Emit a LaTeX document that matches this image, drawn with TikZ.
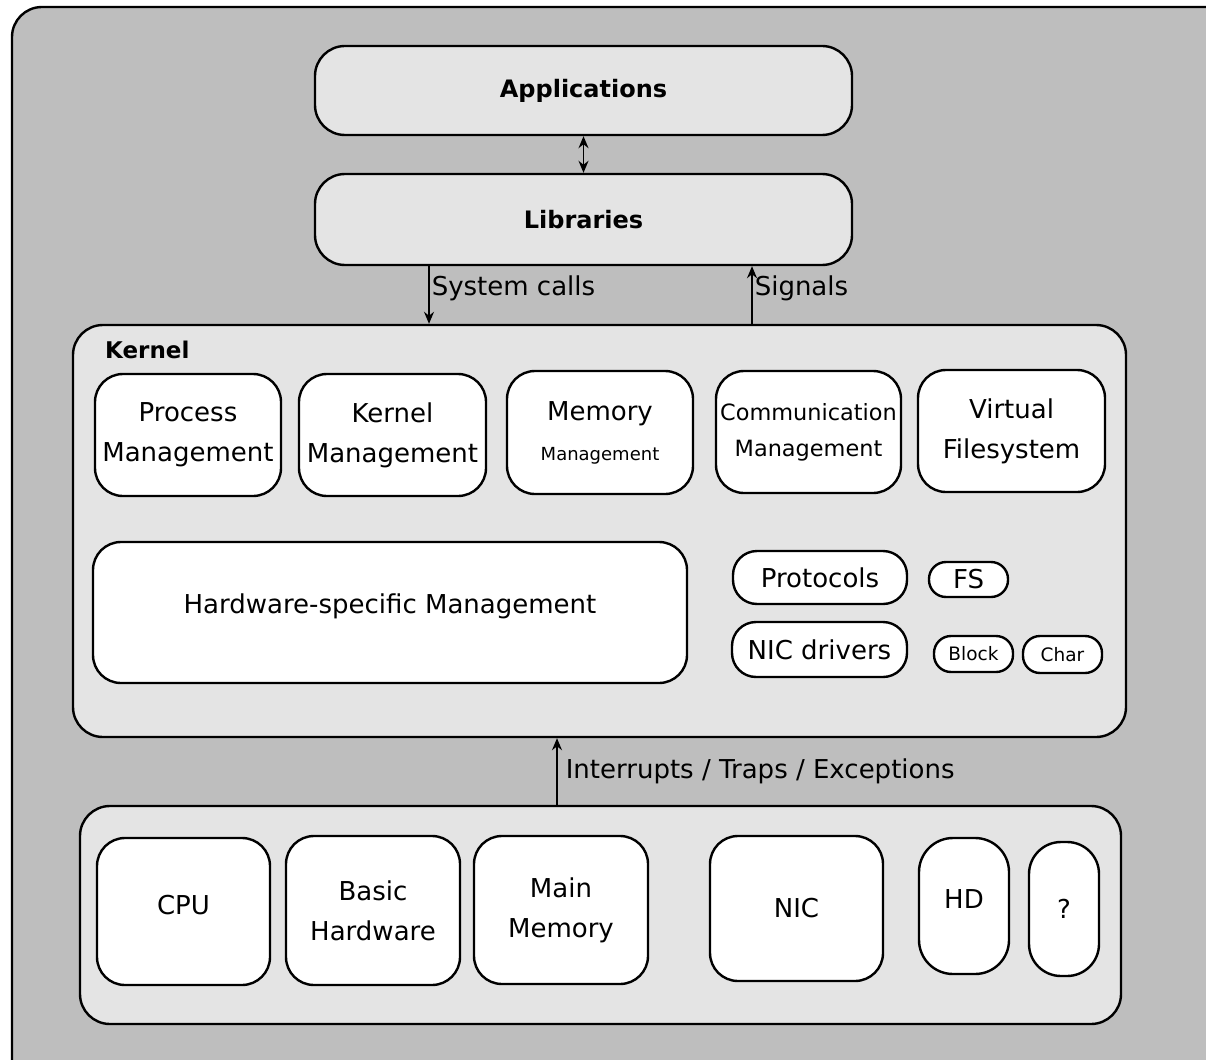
\documentclass[tikz,border=0pt]{standalone}
\usepackage{fontspec}
\setmainfont{DejaVu Sans}
\usepackage{xcolor}
\usetikzlibrary{arrows.meta}

\definecolor{outergray}{HTML}{BEBEBE}
\definecolor{layergray}{HTML}{E4E4E4}

\begin{document}
\begin{tikzpicture}[x=1pt,y=-1pt,
    layer/.style={draw, fill=layergray, line width=2.4pt, rounded corners=30pt, inner sep=0pt},
    unit/.style={draw, fill=white, line width=2.4pt, rounded corners=28pt, inner sep=0pt,
      align=center, font=\fontsize{26}{40}\selectfont},
    pill/.style={unit, rounded corners=24pt},
    small/.style={unit, rounded corners=17pt, font=\fontsize{18.5}{22}\selectfont},
    conn/.style={line width=1.5pt, -{Stealth[length=12pt,width=10pt]}},
    biconn/.style={line width=1.5pt, {Stealth[length=12pt,width=10pt]}-{Stealth[length=12pt,width=10pt]}},
    lbl/.style={font=\fontsize{26}{30}\selectfont, inner sep=2pt}]
      \useasboundingbox (0,0) rectangle (1206,1059);
      \clip (0,0) rectangle (1206,1059);

      \draw[fill=outergray, line width=2.4pt, rounded corners=30pt] (12,7) rectangle (1250,1100);

      \node[layer, minimum width=537pt, minimum height=89pt, font=\fontsize{24}{28}\selectfont\bfseries] (apps) at (583.5,90.5) {Applications};
      \node[layer, minimum width=537pt, minimum height=91pt, font=\fontsize{24}{28}\selectfont\bfseries] (libs) at (583.5,219.5) {Libraries};

      \node[layer, minimum width=1053pt, minimum height=412pt] (kernel) at (599.5,531) {};
      \node[anchor=west, inner sep=0pt, font=\fontsize{23}{28}\selectfont\bfseries] (kerneltitle) at (105,350) {Kernel};

      \node[unit, minimum width=186pt, minimum height=122pt] (procmgmt) at (188,435) {Process\\Management};
      \node[unit, minimum width=187pt, minimum height=122pt] (kernmgmt) at (392.5,435) {Kernel\\Management};
      \node[unit, minimum width=186pt, minimum height=123pt] (memmgmt) at (600,432.5) {Memory\\{\fontsize{18}{22}\selectfont Management}};
      \node[unit, minimum width=185pt, minimum height=122pt, font=\fontsize{22.4}{36}\selectfont] (commmgmt) at (808.5,432) {Communication\\Management};
      \node[unit, minimum width=187pt, minimum height=122pt] (vfs) at (1011.5,431) {Virtual\\Filesystem};

      \node[unit, minimum width=594pt, minimum height=141pt, text depth=18pt] (hwmgmt) at (390,612.5) {Hardware-specific Management};
      \node[pill, minimum width=174pt, minimum height=53pt] (protocols) at (820,577.5) {Protocols};
      \node[pill, minimum width=79pt, minimum height=35pt, rounded corners=17pt] (fs) at (968.5,579.5) {FS};
      \node[pill, minimum width=175pt, minimum height=55pt] (nicdrv) at (819.5,649.5) {NIC drivers};
      \node[small, minimum width=79pt, minimum height=36pt] (block) at (973.5,654) {Block};
      \node[small, minimum width=79pt, minimum height=37pt] (char) at (1062.5,654.5) {Char};

      \node[layer, minimum width=1041pt, minimum height=218pt] (hardware) at (600.5,915) {};
      \node[unit, minimum width=173pt, minimum height=147pt, text depth=14pt] (cpu) at (183.5,911.5) {CPU};
      \node[unit, minimum width=174pt, minimum height=149pt] (basichw) at (373,910.5) {Basic\\Hardware};
      \node[unit, minimum width=174pt, minimum height=148pt] (mainmem) at (561,910) {Main\\Memory};
      \node[unit, minimum width=173pt, minimum height=145pt] (nic) at (796.5,908.5) {NIC};
      \node[unit, minimum width=90pt, minimum height=136pt, rounded corners=34pt, text depth=14pt] (hd) at (964,906) {HD};
      \node[unit, minimum width=70pt, minimum height=134pt, rounded corners=32pt] (other) at (1064,909) {?};

      \coordinate (syscall) at (429,0);
      \coordinate (signal) at (752,0);
      \coordinate (irq) at (557,0);

      \draw[biconn] (apps) -- (libs);
      \draw[conn] (libs.south -| syscall) -- node[lbl, right, yshift=7pt] (syscalllabel) {System calls} (kernel.north -| syscall);
      \draw[conn] (kernel.north -| signal) -- node[lbl, right, yshift=7pt] (signallabel) {Signals} (libs.south -| signal);
      \draw[conn] (hardware.north -| irq) -- node[lbl, right, xshift=6pt] (irqlabel) {Interrupts / Traps / Exceptions} (kernel.south -| irq);
    \end{tikzpicture}
\end{document}
